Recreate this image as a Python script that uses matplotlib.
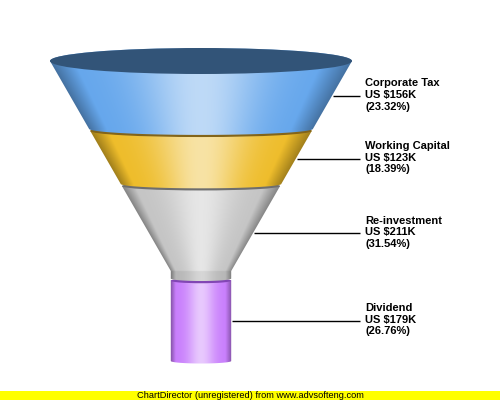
import numpy as np
import matplotlib
matplotlib.use("Agg")
import matplotlib.pyplot as plt
from matplotlib.patches import Polygon, Rectangle, Ellipse

labels = ["Corporate Tax", "Working Capital", "Re-investment", "Dividend"]
values = [156, 123, 211, 179]
base_colors = [(100, 166, 236), (238, 188, 40), (196, 196, 196), (200, 125, 252)]
top_colors = [(50, 84, 120), (130, 100, 26), (110, 110, 110), (130, 70, 180)]

# layout (pixel space)
CX = 201.0
TOP_Y = 61.0
FUNNEL_H = 300.0
W_TOP = 151.0
NECK_RATIO = 0.2
NECK_FRAC = 0.7
GAP = 2.2
RY_TOP = 13.0
RY_K = 0.055

fig = plt.figure(figsize=(5, 4), dpi=100)
ax = fig.add_axes([0, 0, 1, 1])
ax.set_xlim(0, 500)
ax.set_ylim(400, 0)
ax.axis("off")

w_neck = W_TOP * NECK_RATIO
y_neck = TOP_Y + FUNNEL_H * NECK_FRAC


def hw(y):
    y = np.asarray(y, dtype=float)
    r = W_TOP - (W_TOP - w_neck) * (y - TOP_Y) / (y_neck - TOP_Y)
    return np.where(y >= y_neck, w_neck, np.maximum(r, w_neck))


def ry_of(y, first=False):
    if first:
        return RY_TOP
    return max(RY_K * float(hw(y)), 2.5)


def shade(t, base):
    base = np.array(base, dtype=float) / 255.0
    h = 0.58 * np.exp(-((t - 0.5) / 0.22) ** 2)
    d = 0.32 * np.clip(1 - t / 0.08, 0, 1) + 0.32 * np.clip(1 - (1 - t) / 0.1, 0, 1)
    col = base[None, None, :] * (1 - h[..., None]) + h[..., None]
    col = col * (1 - d[..., None])
    return np.clip(col, 0, 1)


total = float(sum(values))
bounds = [TOP_Y]
for v in values:
    bounds.append(bounds[-1] + FUNNEL_H * v / total)

theta = np.linspace(0, np.pi, 80)
n = len(values)
# draw from bottom layer up
for k, i in enumerate(reversed(range(n))):
    z = 2 + 0.1 * k
    ya = bounds[i]
    yb = bounds[i + 1] - (GAP if i < n - 1 else 0)
    ra = ry_of(ya, first=(i == 0))
    rb = ry_of(yb)
    ha = float(hw(ya))
    hb = float(hw(yb))
    pts = []
    ys = [ya]
    if ya < y_neck < yb:
        ys.append(y_neck)
    ys.append(yb)
    for y in ys:
        pts.append((CX - float(hw(y)), y))
    for th in theta:
        pts.append((CX - hb * np.cos(th), yb + rb * np.sin(th)))
    for y in reversed(ys):
        pts.append((CX + float(hw(y)), y))
    for th in theta:
        pts.append((CX + ha * np.cos(th), ya - ra * np.sin(th)))
    poly = Polygon(pts, closed=True, facecolor="none", edgecolor="none", zorder=z)
    ax.add_patch(poly)

    y0, y1 = ya - ra - 1, yb + rb + 1
    x0, x1 = CX - W_TOP - 2, CX + W_TOP + 2
    yy = np.arange(y0, y1, 0.5)
    xx = np.arange(x0, x1, 0.5)
    X, Y = np.meshgrid(xx, yy)
    H = hw(np.clip(Y, ya, yb))
    T = np.clip((X - (CX - H)) / (2 * H), 0, 1)
    img = shade(T, base_colors[i])
    # the neck part of a layer that starts in the cone is slightly darker
    if ya < y_neck:
        neck_mask = (Y >= y_neck)
        img[neck_mask] = img[neck_mask] * 0.93
    im = ax.imshow(img, extent=(x0, x1, y1, y0), origin="upper",
                   aspect="auto", interpolation="bilinear", zorder=z)
    im.set_clip_path(poly)

    tc = np.array(top_colors[i]) / 255.0
    ax.add_patch(Ellipse((CX, ya), 2 * ha, 2 * ra, facecolor=tc,
                         edgecolor="none", zorder=z + 0.05))

# labels and leader lines
for i in range(n):
    ym = (bounds[i] + bounds[i + 1]) / 2
    xs = CX + float(hw(ym))
    ax.plot([xs + 1, 360], [ym, ym], color="black", lw=1.0, zorder=3,
            solid_capstyle="butt")
    pct = 100.0 * values[i] / total
    txt = f"{labels[i]}\nUS ${values[i]}K\n({pct:.2f}%)"
    ax.text(365, ym - 1, txt, fontsize=8, fontweight="bold",
            family="Liberation Sans", ha="left", va="center",
            linespacing=1.2, zorder=4)

# banner
ax.add_patch(Rectangle((0, 390.5), 500, 10, facecolor="#FFFF00",
                       edgecolor="none", zorder=1))
ax.text(250, 395.5, "ChartDirector (unregistered) from www.advsofteng.com",
        fontsize=6.7, family="Liberation Sans", ha="center", va="center",
        zorder=4)

fig.savefig("out.png", dpi=100)
